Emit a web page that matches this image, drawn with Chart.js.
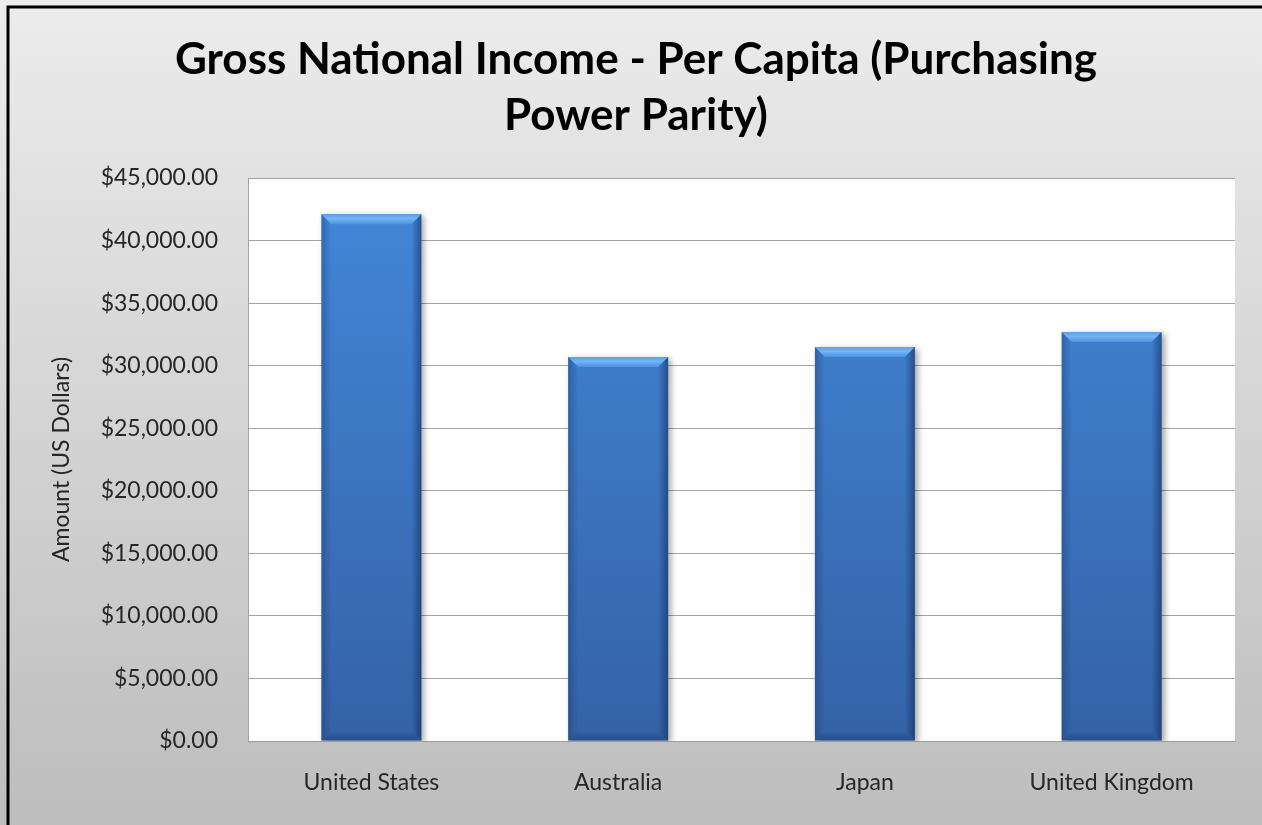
<!DOCTYPE html>
<html>
<head>
<meta charset="utf-8">
<style>
  html, body { margin: 0; padding: 0; background: #fff; }
  canvas { display: block; }
</style>
<script src="https://cdn.jsdelivr.net/npm/chart.js@4.4.1/dist/chart.umd.min.js"></script>
</head>
<body>
<canvas id="gniChart" width="1262" height="825"></canvas>
<script>
const countries = ["United States", "Australia", "Japan", "United Kingdom"];
const gniPerCapita = [42100, 30700, 31500, 32700];
const yMin = 0;
const yMax = 45000;
const yStep = 5000;
const titleLines = ["Gross National Income - Per Capita (Purchasing", "Power Parity)"];
const yAxisTitle = "Amount (US Dollars)";

const FONT = "Lato, 'Open Sans', sans-serif";

// grey panel, black frame on top/left, white plot area
const backdrop = {
  id: "backdrop",
  beforeDraw(chart) {
    const { ctx, width, height, chartArea: a } = chart;
    ctx.save();
    const g = ctx.createLinearGradient(0, 0, 0, height);
    g.addColorStop(0, "#ececec");
    g.addColorStop(1, "#bdbdbd");
    ctx.fillStyle = g;
    ctx.fillRect(0, 0, width, height);
    ctx.fillStyle = "#ffffff";
    ctx.fillRect(a.left, a.top, a.right - a.left, a.bottom - a.top);
    ctx.strokeStyle = "#000";
    ctx.lineWidth = 3;
    ctx.beginPath();
    ctx.moveTo(8, height);
    ctx.lineTo(8, 7);
    ctx.lineTo(width, 7);
    ctx.stroke();
    ctx.restore();
  },
};

// soft drop shadow under the bars
const barShadow = {
  id: "barShadow",
  beforeDatasetDraw(chart) {
    const ctx = chart.ctx;
    ctx.save();
    ctx.shadowColor = "rgba(0,0,0,0.35)";
    ctx.shadowBlur = 6;
    ctx.shadowOffsetX = 3;
    ctx.shadowOffsetY = 2;
  },
  afterDatasetDraw(chart) {
    chart.ctx.restore();
  },
};

// bevel on top and sides of each bar, like the office chart style
const barBevel = {
  id: "barBevel",
  afterDatasetsDraw(chart) {
    const ctx = chart.ctx;
    const b = 10;
    chart.getDatasetMeta(0).data.forEach((bar) => {
      const l = bar.x - bar.width / 2;
      const r = bar.x + bar.width / 2;
      const t = bar.y;
      const btm = bar.base;
      ctx.save();

      const tg = ctx.createLinearGradient(0, t, 0, t + b);
      tg.addColorStop(0, "#5c9ee8");
      tg.addColorStop(0.45, "#72b6f6");
      tg.addColorStop(1, "#4d90df");
      ctx.fillStyle = tg;
      ctx.beginPath();
      ctx.moveTo(l, t);
      ctx.lineTo(r, t);
      ctx.lineTo(r - b, t + b);
      ctx.lineTo(l + b, t + b);
      ctx.closePath();
      ctx.fill();

      const lg = ctx.createLinearGradient(l, 0, l + b, 0);
      lg.addColorStop(0, "rgba(20,50,100,0.35)");
      lg.addColorStop(1, "rgba(20,50,100,0)");
      ctx.fillStyle = lg;
      ctx.beginPath();
      ctx.moveTo(l, t);
      ctx.lineTo(l + b, t + b);
      ctx.lineTo(l + b, btm - b);
      ctx.lineTo(l, btm);
      ctx.closePath();
      ctx.fill();

      const rg = ctx.createLinearGradient(r - b, 0, r, 0);
      rg.addColorStop(0, "rgba(15,40,85,0)");
      rg.addColorStop(1, "rgba(15,40,85,0.55)");
      ctx.fillStyle = rg;
      ctx.beginPath();
      ctx.moveTo(r, t);
      ctx.lineTo(r - b, t + b);
      ctx.lineTo(r - b, btm - b);
      ctx.lineTo(r, btm);
      ctx.closePath();
      ctx.fill();

      const bg = ctx.createLinearGradient(0, btm - b, 0, btm);
      bg.addColorStop(0, "rgba(15,40,85,0)");
      bg.addColorStop(1, "rgba(15,40,85,0.35)");
      ctx.fillStyle = bg;
      ctx.beginPath();
      ctx.moveTo(l, btm);
      ctx.lineTo(l + b, btm - b);
      ctx.lineTo(r - b, btm - b);
      ctx.lineTo(r, btm);
      ctx.closePath();
      ctx.fill();

      ctx.restore();
    });
  },
};

function barFill(context) {
  const area = context.chart.chartArea;
  if (!area) return "#3f7cc8";
  const g = context.chart.ctx.createLinearGradient(0, area.top, 0, area.bottom);
  g.addColorStop(0, "#4388da");
  g.addColorStop(1, "#3462a6");
  return g;
}

function formatDollars(v) {
  return "$" + Number(v).toLocaleString("en-US", { minimumFractionDigits: 2, maximumFractionDigits: 2 });
}

new Chart(document.getElementById("gniChart"), {
  type: "bar",
  data: {
    labels: countries,
    datasets: [
      {
        label: "GNI per capita (PPP)",
        data: gniPerCapita,
        backgroundColor: barFill,
        borderWidth: 0,
        barPercentage: 0.405,
        categoryPercentage: 1,
      },
    ],
  },
  options: {
    responsive: false,
    animation: false,
    layout: { padding: { left: 37, right: 27, top: 0, bottom: 0 } },
    plugins: {
      legend: { display: false },
      tooltip: { enabled: false },
      title: {
        display: true,
        text: titleLines,
        color: "#000",
        font: { family: FONT, size: 44, weight: "bold", lineHeight: 1.273 },
        padding: { top: 32, bottom: 34 },
      },
    },
    scales: {
      x: {
        grid: { display: false, drawTicks: false },
        border: { display: true, color: "#9c9c9c", width: 1 },
        ticks: { color: "#262626", font: { family: FONT, size: 23 }, padding: 28, maxRotation: 0 },
        afterFit: (s) => { s.height = 84; },
      },
      y: {
        min: yMin,
        max: yMax,
        grid: { color: "#a3a3a3", lineWidth: 1, drawTicks: false },
        border: { display: true, color: "#a3a3a3", width: 1 },
        ticks: {
          stepSize: yStep,
          color: "#262626",
          font: { family: FONT, size: 23 },
          padding: 30,
          callback: (v) => formatDollars(v),
        },
        title: {
          display: true,
          text: yAxisTitle,
          color: "#262626",
          font: { family: FONT, size: 23 },
          padding: { top: 11, bottom: 0 },
        },
        afterFit: (s) => { s.width = 211; },
      },
    },
  },
  plugins: [backdrop, barShadow, barBevel],
});
</script>
</body>
</html>
